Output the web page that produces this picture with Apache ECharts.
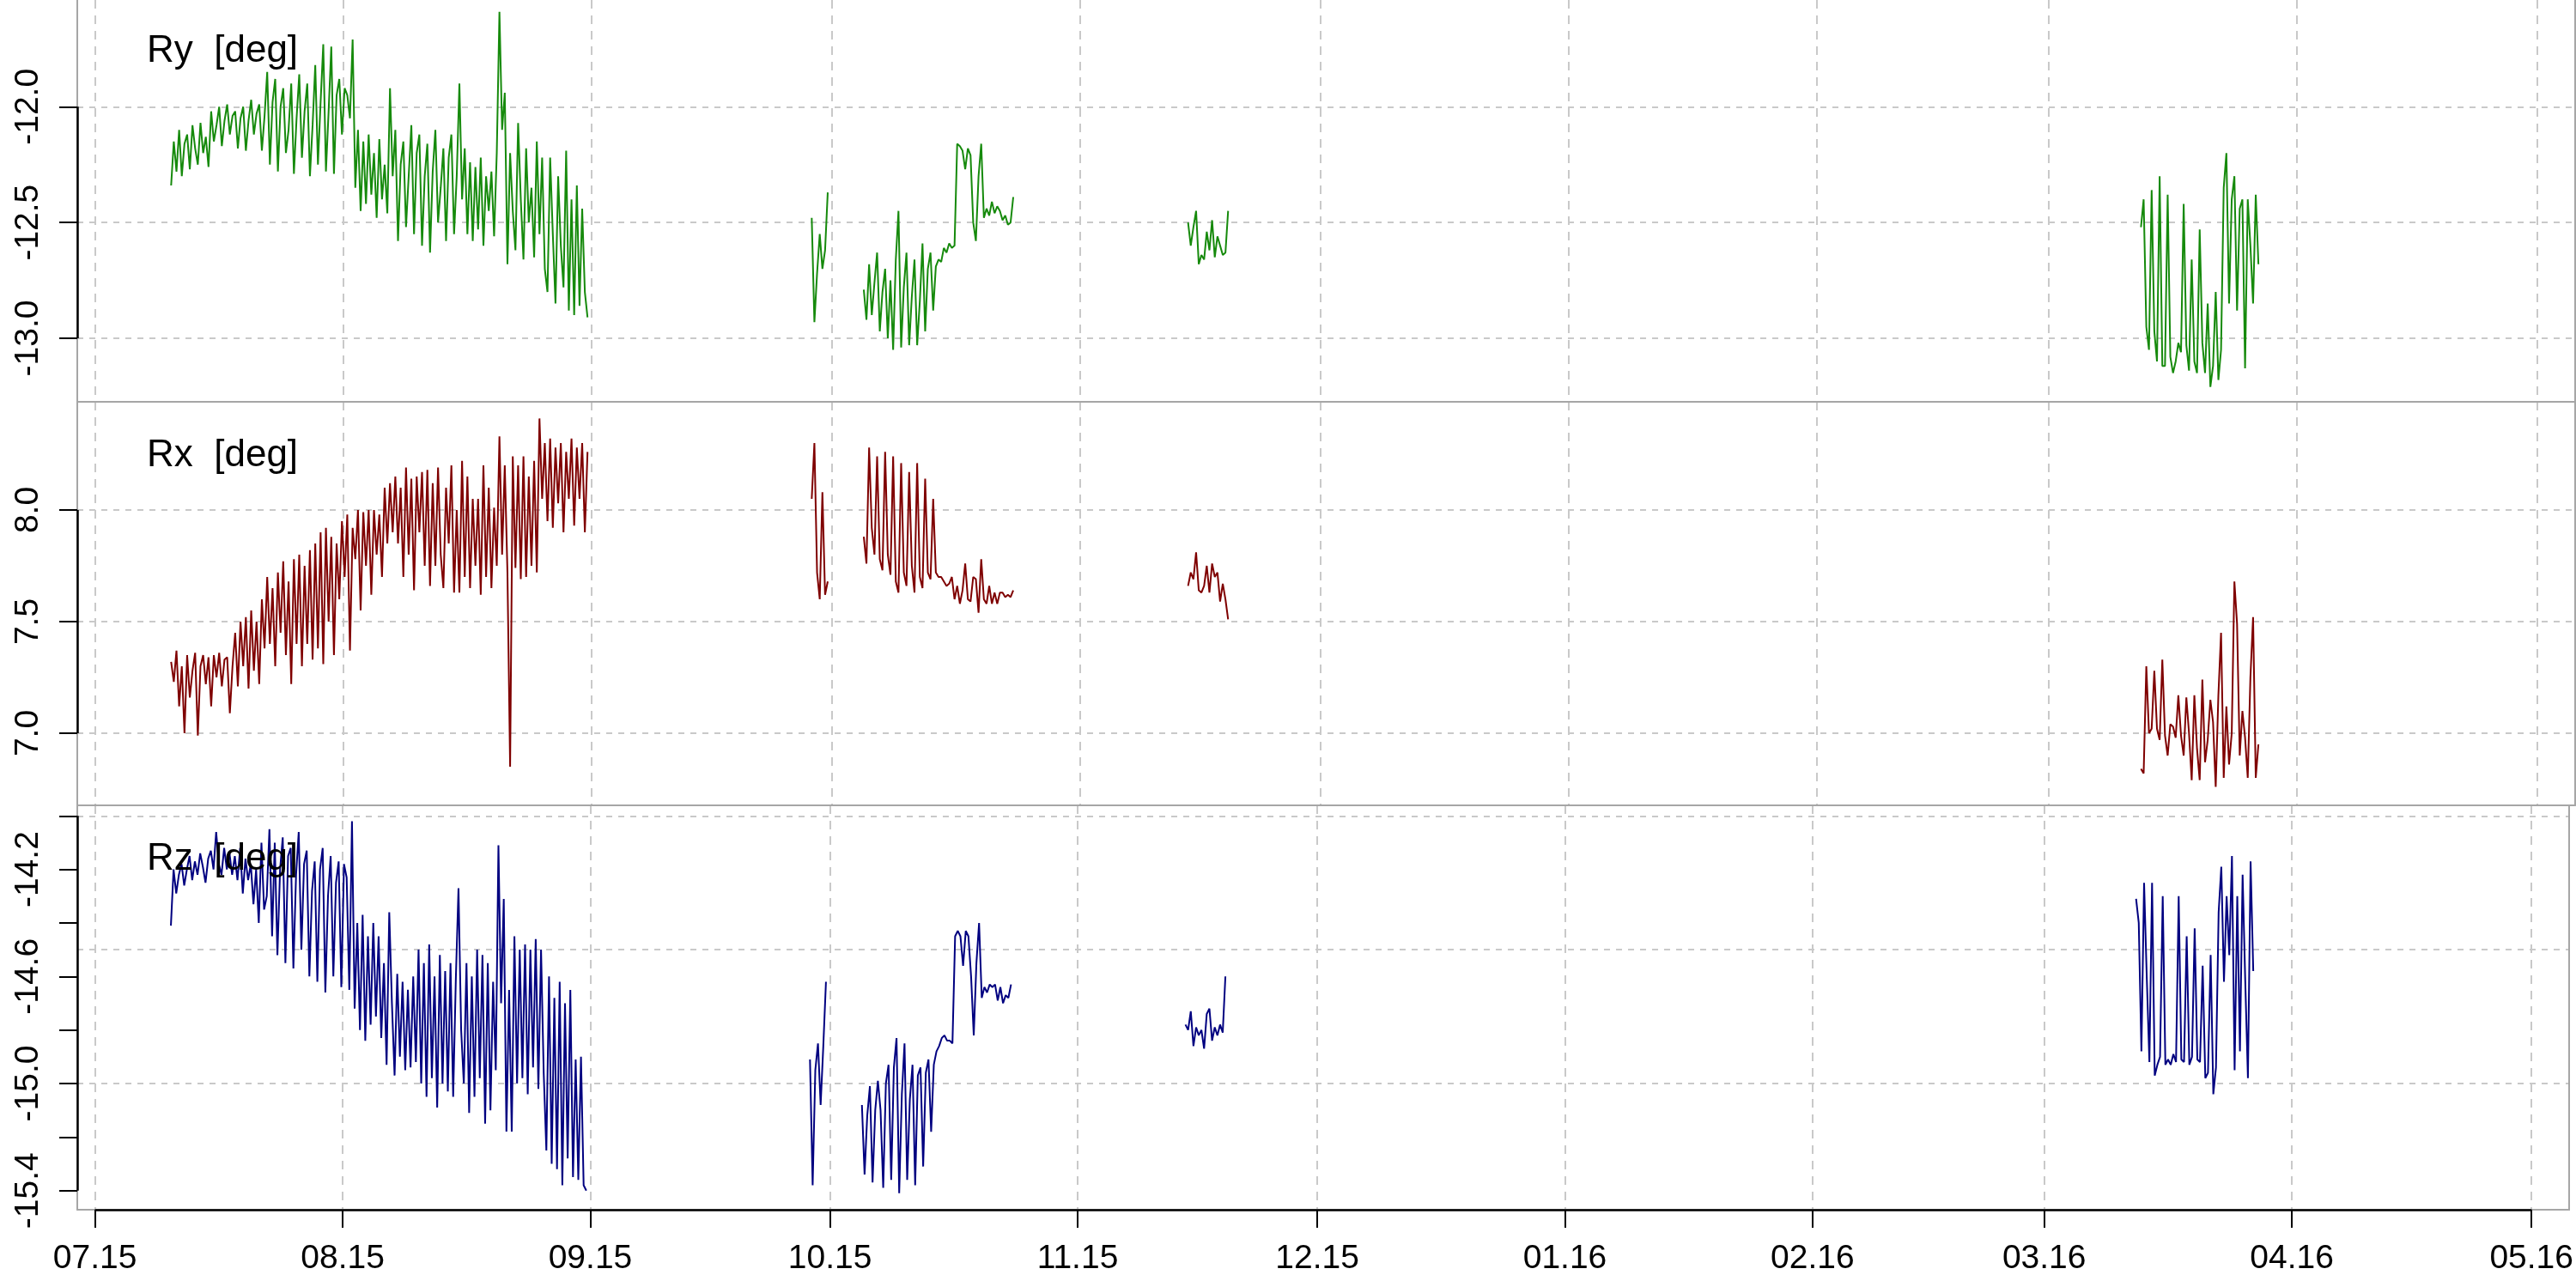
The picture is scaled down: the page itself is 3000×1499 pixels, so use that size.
<!DOCTYPE html>
<html>
<head>
<meta charset="utf-8">
<script src="https://cdn.jsdelivr.net/npm/echarts@6/dist/echarts.min.js"></script>
<style>
html, body { margin: 0; padding: 0; background: #fff; }
#chart { width: 3000px; height: 1499px; }
</style>
</head>
<body>
<div id="chart"></div>
<script>
var DAY = 86400000;
var STEP = DAY / 3;   // one sample every 8 h

// first sample of each recorded stretch (UTC)
var segStart = ['2015-07-10T12:00:00Z', '2015-09-28T12:00:00Z', '2015-10-05T00:00:00Z',
                '2015-11-14T12:00:00Z', '2016-03-12T12:00:00Z'];

var monthTicks = ['2015-07-01', '2015-08-01', '2015-09-01', '2015-10-01', '2015-11-01', '2015-12-01',
                  '2016-01-01', '2016-02-01', '2016-03-01', '2016-04-01', '2016-05-01'];

// ---- Ry ----
var ry_jul = [
  -12.34, -12.15, -12.28,  -12.10, -12.30, -12.16,  -12.12, -12.27, -12.08,  -12.18, -12.25, -12.07,
  -12.20, -12.13, -12.26,  -12.02, -12.15, -12.08,  -12.00, -12.17, -12.06,  -11.99, -12.12, -12.04,
  -12.02, -12.18, -12.05,  -12.00, -12.19, -12.06,  -11.97, -12.12, -12.03,  -11.99, -12.19, -12.04,
  -11.85, -12.25, -11.98,  -11.88, -12.28, -12.00,  -11.92, -12.20, -12.10,  -11.90, -12.29, -12.05,
  -11.86, -12.22, -12.02,  -11.90, -12.30, -12.08,  -11.82, -12.25, -11.98,  -11.73, -12.28, -12.02,
  -11.74, -12.29, -11.95,  -11.88, -12.12, -11.92,  -11.95, -12.05, -11.71,  -12.35, -12.10, -12.45,
  -12.15, -12.42, -12.12,  -12.38, -12.20, -12.48,  -12.14, -12.40, -12.25,  -12.46, -11.92, -12.30,
  -12.10, -12.58, -12.25,  -12.15, -12.52, -12.30,  -12.08, -12.55, -12.20,  -12.12, -12.60, -12.30,
  -12.16, -12.63, -12.28,  -12.10, -12.50, -12.35,  -12.18, -12.58, -12.22,  -12.12, -12.55, -12.30,
  -11.90, -12.40, -12.18,  -12.55, -12.24, -12.58,  -12.26, -12.53, -12.22,  -12.60, -12.30, -12.45,
  -12.28, -12.56, -12.20,  -11.59, -12.10, -11.94,  -12.68, -12.20, -12.45,  -12.62, -12.07, -12.40,
  -12.66, -12.18, -12.50,  -12.35, -12.65, -12.15,  -12.55, -12.22, -12.70,  -12.80, -12.22, -12.55,
  -12.85, -12.30, -12.60,  -12.78, -12.19, -12.88,  -12.40, -12.90, -12.34,  -12.86, -12.44, -12.80,
  -12.91
];
var ry_sep = [-12.48, -12.93, -12.72, -12.55, -12.70, -12.62, -12.37];
var ry_oct = [
  -12.79, -12.92, -12.68, -12.90, -12.76, -12.63, -12.97, -12.80, -12.70, -13.00,
  -12.75, -13.05, -12.66, -12.45, -13.04, -12.78, -12.63, -13.03, -12.82, -12.66,
  -13.03, -12.84, -12.59, -12.97, -12.70, -12.63, -12.88, -12.69, -12.66, -12.67,
  -12.61, -12.63, -12.59, -12.61, -12.60, -12.16, -12.17, -12.19, -12.27, -12.18,
  -12.21, -12.50, -12.58, -12.30, -12.16, -12.48, -12.44, -12.47, -12.41, -12.46,
  -12.43, -12.45, -12.49, -12.47, -12.51, -12.50, -12.39
];
var ry_nov = [-12.50, -12.60, -12.52, -12.45, -12.68, -12.64, -12.66, -12.54,
              -12.62, -12.49, -12.65, -12.56, -12.60, -12.64, -12.63, -12.45];
var ry_mar = [
  -12.52, -12.40, -12.95, -13.05, -12.36, -12.97, -13.10, -12.30, -13.12, -13.12,
  -12.38, -13.08, -13.15, -13.10, -13.02, -13.06, -12.42, -13.03, -13.14, -12.66,
  -13.10, -13.15, -12.53, -13.02, -13.15, -12.85, -13.21, -13.12, -12.80, -13.18,
  -13.05, -12.35, -12.20, -12.85, -12.40, -12.30, -12.88, -12.44, -12.40, -13.13,
  -12.40, -12.60, -12.85, -12.38, -12.68
];

// ---- Rx ----
var rx_jul = [
  7.32, 7.23, 7.37,  7.12, 7.30, 7.00,  7.35, 7.16, 7.28,  7.36, 6.99, 7.30,
  7.35, 7.22, 7.34,  7.12, 7.35, 7.25,  7.36, 7.21, 7.33,  7.34, 7.09, 7.30,
  7.45, 7.21, 7.50,  7.30, 7.52, 7.20,  7.55, 7.28, 7.50,  7.22, 7.60, 7.38,
  7.70, 7.40, 7.65,  7.30, 7.72, 7.45,  7.77, 7.35, 7.68,  7.22, 7.78, 7.40,
  7.80, 7.30, 7.75,  7.40, 7.82, 7.33,  7.85, 7.38, 7.90,  7.31, 7.92, 7.50,
  7.88, 7.35, 7.85,  7.60, 7.95, 7.70,  7.98, 7.37, 7.92,  7.78, 8.00, 7.55,
  7.99, 7.75, 8.00,  7.62, 8.00, 7.80,  7.98, 7.70, 8.10,  7.85, 8.12, 7.90,
  8.15, 7.85, 8.10,  7.70, 8.19, 7.80,  8.14, 7.64, 8.15,  7.90, 8.17, 7.75,
  8.18, 7.66, 8.12,  7.75, 8.19, 7.80,  7.65, 8.10, 7.85,  8.20, 7.63, 8.00,
  7.63, 8.22, 7.70,  8.15, 7.65, 8.05,  7.75, 8.05, 7.62,  8.20, 7.70, 8.10,
  7.65, 8.01, 7.75,  8.33, 7.80, 8.20,  7.72, 6.85, 8.24,  7.74, 8.20, 7.69,
  8.24, 7.70, 8.15,  7.75, 8.22, 7.72,  8.41, 8.05, 8.30,  7.95, 8.32, 7.92,
  8.28, 8.03, 8.30,  7.90, 8.26, 8.05,  8.32, 7.93, 8.28,  8.05, 8.30, 7.90,
  8.26
];
var rx_sep = [8.05, 8.30, 7.72, 7.60, 8.08, 7.62, 7.68];
var rx_oct = [
  7.88, 7.76, 8.28, 7.92, 7.80, 8.24, 7.78, 7.73, 8.26, 7.80,
  7.71, 8.24, 7.68, 7.63, 8.21, 7.72, 7.66, 8.17, 7.75, 7.63,
  8.21, 7.70, 7.65, 8.14, 7.72, 7.69, 8.05, 7.72, 7.70, 7.70,
  7.68, 7.66, 7.67, 7.70, 7.60, 7.66, 7.58, 7.64, 7.76, 7.60,
  7.59, 7.70, 7.69, 7.54, 7.78, 7.60, 7.58, 7.66, 7.58, 7.63,
  7.58, 7.63, 7.63, 7.61, 7.62, 7.61, 7.64
];
var rx_nov = [7.66, 7.72, 7.69, 7.81, 7.64, 7.63, 7.66, 7.75,
              7.63, 7.76, 7.70, 7.72, 7.59, 7.67, 7.60, 7.51];
var rx_mar = [
  6.84, 6.82, 7.30, 7.00, 7.02, 7.28, 7.02, 6.97, 7.33, 6.99,
  6.90, 7.04, 7.03, 6.98, 7.17, 6.99, 6.90, 7.16, 7.00, 6.79,
  7.17, 6.93, 6.79, 7.24, 6.87, 6.97, 7.15, 7.05, 6.76, 7.17,
  7.45, 6.80, 7.12, 6.86, 7.00, 7.68, 7.49, 6.90, 7.10, 6.98,
  6.80, 7.25, 7.52, 6.80, 6.95
];

// ---- Rz ----
var rz_jul = [
  -14.41, -14.20, -14.29,  -14.22, -14.18, -14.26,  -14.20, -14.15, -14.24,  -14.17, -14.22, -14.14,
  -14.19, -14.25, -14.16,  -14.13, -14.20, -14.06,  -14.18, -14.22, -14.12,  -14.20, -14.14, -14.22,
  -14.15, -14.24, -14.12,  -14.29, -14.16, -14.24,  -14.18, -14.33, -14.20,  -14.40, -14.10, -14.35,
  -14.30, -14.05, -14.45,  -14.10, -14.52, -14.20,  -14.08, -14.55, -14.15,  -14.12, -14.57, -14.22,
  -14.06, -14.50, -14.18,  -14.13, -14.60, -14.28,  -14.17, -14.62, -14.20,  -14.12, -14.66, -14.30,
  -14.15, -14.60, -14.25,  -14.17, -14.64, -14.18,  -14.23, -14.65, -14.02,  -14.72, -14.40, -14.80,
  -14.37, -14.84, -14.45,  -14.78, -14.40, -14.75,  -14.45, -14.83, -14.55,  -14.93, -14.36, -14.70,
  -14.97, -14.59, -14.90,  -14.62, -14.95, -14.65,  -14.94, -14.60, -14.92,  -14.50, -15.00, -14.55,
  -15.05, -14.48, -14.98,  -14.60, -15.09, -14.52,  -15.00, -14.58, -15.03,  -14.55, -15.05, -14.61,
  -14.27, -14.80, -15.00,  -14.55, -15.11, -14.60,  -15.05, -14.50, -14.98,  -14.52, -15.15, -14.55,
  -15.10, -14.62, -14.95,  -14.11, -14.70, -14.31,  -15.18, -14.65, -15.18,  -14.45, -15.00, -14.50,
  -14.98, -14.48, -15.04,  -14.50, -14.94, -14.46,  -15.02, -14.50, -14.96,  -15.25, -14.60, -15.30,
  -14.68, -15.32, -14.62,  -15.38, -14.70, -15.28,  -14.65, -15.35, -14.91,  -15.36, -14.90, -15.38,
  -15.40
];
var rz_sep = [-14.91, -15.38, -14.95, -14.85, -15.08, -14.86, -14.62];
var rz_oct = [
  -15.08, -15.34, -15.12, -15.01, -15.37, -15.10, -14.99, -15.10, -15.39, -15.00,
  -14.93, -15.36, -14.94, -14.83, -15.41, -15.04, -14.85, -15.36, -15.06, -14.93,
  -15.38, -14.97, -14.94, -15.31, -14.96, -14.91, -15.18, -14.93, -14.88, -14.86,
  -14.83, -14.82, -14.84, -14.84, -14.85, -14.45, -14.43, -14.45, -14.56, -14.43,
  -14.45, -14.60, -14.82, -14.55, -14.40, -14.68, -14.64, -14.66, -14.63, -14.64,
  -14.63, -14.69, -14.64, -14.70, -14.67, -14.68, -14.63
];
var rz_nov = [-14.78, -14.80, -14.73, -14.86, -14.79, -14.82, -14.80, -14.87,
              -14.74, -14.72, -14.84, -14.79, -14.82, -14.78, -14.81, -14.60];
var rz_mar = [
  -14.31, -14.40, -14.88, -14.25, -14.60, -14.92, -14.25, -14.97, -14.93, -14.90,
  -14.30, -14.93, -14.91, -14.93, -14.89, -14.92, -14.30, -14.91, -14.92, -14.45,
  -14.93, -14.90, -14.42, -14.91, -14.92, -14.56, -14.98, -14.96, -14.52, -15.04,
  -14.94, -14.36, -14.19, -14.62, -14.30, -14.52, -14.15, -14.95, -14.30, -14.88,
  -14.22, -14.62, -14.98, -14.17, -14.58
];

// axis ticks
var ryTicks = [-13.0, -12.5, -12.0];
var rxTicks = [7.0, 7.5, 8.0];
var rzTicks = [-15.4, -15.2, -15.0, -14.8, -14.6, -14.4, -14.2, -14.0];
var rzLabels = [-15.4, -15.0, -14.6, -14.2];
var rzGrid = [-15.0, -14.5, -14.0];

var FONT = '"Liberation Sans", Arial, Helvetica, sans-serif';
var GRIDCOL = '#c9c9c9';
var BOXCOL = '#a6a6a6';

var months = monthTicks.map(function (s) { return Date.parse(s); });
var xMin = months[0] - 2.22 * DAY;
var xMax = xMin + 311.94 * DAY;

function buildLine(segs) {
  var out = [];
  segs.forEach(function (vals, s) {
    var t0 = Date.parse(segStart[s]);
    for (var i = 0; i < vals.length; i++) out.push([t0 + i * STEP, vals[i]]);
    out.push([t0 + vals.length * STEP, null]);
  });
  return out;
}

function monthLabel(v) {
  var d = new Date(v);
  var m = d.getUTCMonth() + 1;
  return (m < 10 ? '0' : '') + m + '.' + String(d.getUTCFullYear()).slice(2);
}

var panels = [
  { title: 'Ry  [deg]', segs: [ry_jul, ry_sep, ry_oct, ry_nov, ry_mar], color: '#168a0c',
    top: 0, height: 468, min: -13.2744, max: -11.5391,
    ticks: ryTicks, labels: ryTicks, grid: ryTicks, titleTop: 33 },
  { title: 'Rx  [deg]', segs: [rx_jul, rx_sep, rx_oct, rx_nov, rx_mar], color: '#7f0000',
    top: 468, height: 470, min: 6.6769, max: 8.4846,
    ticks: rxTicks, labels: rxTicks, grid: rxTicks, titleTop: 504 },
  { title: 'Rz  [deg]', segs: [rz_jul, rz_sep, rz_oct, rz_nov, rz_mar], color: '#000080',
    top: 938, height: 471, min: -15.4716, max: -13.9606,
    ticks: rzTicks, labels: rzLabels, grid: rzGrid, titleTop: 974 }
];

var grids = [], xAxes = [], yAxes = [], series = [], titles = [];

panels.forEach(function (p, k) {
  var last = k === panels.length - 1;
  // the box is drawn by the axis lines (no top edge, like the original)
  grids.push({ left: 90, right: 1, top: p.top, height: p.height, show: false });

  titles.push({ text: p.title, left: 166, top: p.titleTop,
                textStyle: { fontFamily: FONT, fontSize: 44, fontWeight: 'normal', color: '#000' } });

  xAxes.push({
    type: 'value', gridIndex: k, min: xMin, max: xMax,
    axisLine: { show: true, onZero: false, lineStyle: { color: BOXCOL, width: 2 } },
    axisTick: { show: last, customValues: months, length: 21, lineStyle: { color: '#000', width: 2 } },
    axisLabel: { show: last, customValues: months, formatter: monthLabel, margin: 38,
                 fontFamily: FONT, fontSize: 39, color: '#000' },
    splitLine: { show: true, lineStyle: { color: GRIDCOL, width: 2, type: [10, 8] } }
  });

  // left: ticks + labels
  yAxes.push({
    type: 'value', gridIndex: k, min: p.min, max: p.max, position: 'left',
    axisLine: { show: true, onZero: false, lineStyle: { color: BOXCOL, width: 2 } },
    axisTick: { show: true, customValues: p.ticks, length: 21, lineStyle: { color: '#000', width: 2 } },
    axisLabel: { customValues: p.labels, rotate: 90, margin: 37,
                 formatter: function (v) { return v.toFixed(1); },
                 fontFamily: FONT, fontSize: 39, color: '#000' },
    splitLine: { show: false }
  });
  // right edge + dashed grid
  yAxes.push({
    type: 'value', gridIndex: k, min: p.min, max: p.max, position: 'right',
    axisLine: { show: true, onZero: false, lineStyle: { color: BOXCOL, width: 2 } },
    axisTick: { show: false, customValues: p.grid },
    axisLabel: { show: false },
    splitLine: { show: true, lineStyle: { color: GRIDCOL, width: 2, type: [7, 7] } }
  });

  var axisLines = [
    [{ coord: [xMin, p.ticks[0]] }, { coord: [xMin, p.ticks[p.ticks.length - 1]] }]
  ];
  if (last) {
    axisLines.push([{ coord: [months[0], p.min] }, { coord: [months[months.length - 1], p.min] }]);
  }

  series.push({
    type: 'line', xAxisIndex: k, yAxisIndex: 2 * k,
    data: buildLine(p.segs),
    showSymbol: false, symbol: 'none', connectNulls: false, clip: false,
    lineStyle: { color: p.color, width: 2 },
    emphasis: { disabled: true },
    markLine: {
      silent: true, symbol: ['none', 'none'], label: { show: false },
      lineStyle: { color: '#000', width: 2.5, type: 'solid' },
      emphasis: { disabled: true },
      data: axisLines
    }
  });
});

var chart = echarts.init(document.getElementById('chart'));
chart.setOption({
  animation: false,
  backgroundColor: '#fff',
  title: titles,
  grid: grids,
  xAxis: xAxes,
  yAxis: yAxes,
  series: series
});
</script>
</body>
</html>
